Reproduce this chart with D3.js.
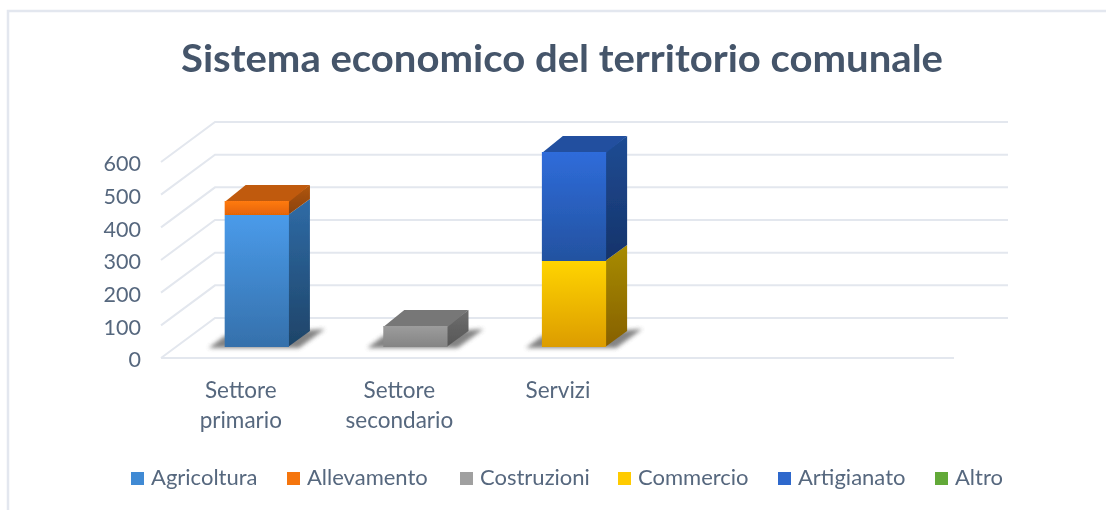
<!DOCTYPE html>
<html>
<head>
<meta charset="utf-8">
<script src="https://cdn.jsdelivr.net/npm/d3@7"></script>
<style>
  html, body { margin: 0; padding: 0; background: #fff; }
  text { font-family: Lato, "Open Sans", sans-serif; fill: #56677e; }
</style>
</head>
<body>
<div id="chart"></div>
<script>
let title = "Sistema economico del territorio comunale";
let categories = ["Settore primario", "Settore secondario", "Servizi", "", " "];
let cat_lines = [["Settore", "primario"], ["Settore", "secondario"], ["Servizi"], [], []];
let series_names = ["Agricoltura", "Allevamento", "Costruzioni", "Commercio", "Artigianato", "Altro"];
let agricoltura = [405, 0, 0, 0, 0];
let allevamento = [43, 0, 0, 0, 0];
let costruzioni = [0, 65, 0, 0, 0];
let commercio = [0, 0, 263, 0, 0];
let artigianato = [0, 0, 333, 0, 0];
let altro = [0, 0, 0, 0, 0];
let y_ticks = [0, 100, 200, 300, 400, 500, 600];

let width = 1106;
let height = 510;
let floor = {left: 161, right: 954, y: 358};
let wall = {dx: 54, dy: -40};     // front of floor to back wall
let front = {dx: 16.5, dy: -11};  // front of floor to front of the bars
let depth = {dx: 21, dy: -16};    // bar depth

// face colors: front top, front bottom, side top, side bottom, top face
let faces = [
    ["#4a9bea", "#3570ab", "#2f6ba6", "#1e4468", "#2f6ba6"],
    ["#ff7a12", "#e56405", "#b0560c", "#8a4208", "#c05a0a"],
    ["#9c9c9c", "#848484", "#6e6e6e", "#565656", "#777777"],
    ["#ffd400", "#dc9c00", "#a88c00", "#866000", "#a88c00"],
    ["#2f6cda", "#2352a0", "#1f4c94", "#15336a", "#20509f"],
    ["#62a937", "#4c8a28", "#3d6e20", "#2e5518", "#3d6e20"]
];
let legend_colors = [
    ["#3f8ad4", "#2f6faa"],
    ["#f5740f", "#d85f05"],
    ["#a0a0a0", "#808080"],
    ["#ffcb05", "#e0a000"],
    ["#2e68cc", "#23529e"],
    ["#62a937", "#4c8a28"]
];
let legend_x = [131, 287, 460, 618, 778, 935];

let table = categories.map((c, i) => ({
    cat: c,
    Agricoltura: agricoltura[i],
    Allevamento: allevamento[i],
    Costruzioni: costruzioni[i],
    Commercio: commercio[i],
    Artigianato: artigianato[i],
    Altro: altro[i]
}));
let stacked = d3.stack().keys(series_names)(table);

let x_scale = d3.scaleBand()
            .domain(categories)
            .range([floor.left, floor.right])
            .paddingInner(0.595)
            .paddingOuter(0.2975);

let y_scale = d3.scaleLinear()
            .domain([0, 600])
            .range([floor.y, 162]);

let svg = d3.select("#chart").append("svg")
            .attr("width", width)
            .attr("height", height)
            .attr("viewBox", [0, 0, width, height])
            .style("display", "block");

let defs = svg.append("defs");
let soften = defs.append("filter").attr("id", "soften");
soften.append("feGaussianBlur").attr("stdDeviation", 0.5);
let shadow_blur = defs.append("filter").attr("id", "shadow_blur")
            .attr("x", "-20%").attr("y", "-40%").attr("width", "140%").attr("height", "180%");
shadow_blur.append("feGaussianBlur").attr("stdDeviation", 2.2);

function add_gradient(id, top, bottom, y1, y2) {
    let g = defs.append("linearGradient").attr("id", id)
        .attr("gradientUnits", "userSpaceOnUse")
        .attr("x1", 0).attr("x2", 0).attr("y1", y1).attr("y2", y2);
    g.append("stop").attr("offset", 0).attr("stop-color", top);
    g.append("stop").attr("offset", 1).attr("stop-color", bottom);
}

let poly = pts => pts.map(p => p.join(",")).join(" ");
let root = svg.append("g").attr("filter", "url(#soften)");

// picture frame
root.append("path")
    .attr("d", `M8,${height}V11H${width}`)
    .attr("fill", "none").attr("stroke", "#e3e7ef").attr("stroke-width", 2.5);

root.append("text")
    .attr("x", 181).attr("y", 72)
    .attr("textLength", 762)
    .attr("lengthAdjust", "spacingAndGlyphs")
    .attr("font-size", 38)
    .attr("font-weight", 700)
    .style("fill", "#44546a")
    .text(title);

// gridlines, floor edge and wall
let grid = root.append("g").attr("fill", "none").attr("stroke", "#e3e7ee").attr("stroke-width", 2);
grid.selectAll("polyline")
    .data(y_ticks)
    .join("polyline")
    .attr("points", d => poly([
        [floor.left, y_scale(d)],
        [floor.left + wall.dx, y_scale(d) + wall.dy],
        [floor.right + wall.dx, y_scale(d) + wall.dy]
    ]));
grid.append("line")
    .attr("x1", floor.left).attr("x2", floor.right)
    .attr("y1", floor.y).attr("y2", floor.y);

// y axis
let y_axis = root.append("g")
    .attr("transform", `translate(${floor.left - 20},2)`)
    .call(d3.axisLeft(y_scale).tickValues(y_ticks).tickSize(0).tickPadding(0));
y_axis.select(".domain").remove();
y_axis.selectAll("text")
    .attr("font-size", 21.5)
    .attr("font-family", "Lato")
    .style("fill", "#56677e");

// category labels
root.append("g").selectAll("text")
    .data(categories.map((c, i) => ({cat: c, lines: cat_lines[i]})))
    .join("text")
    .attr("text-anchor", "middle")
    .attr("font-size", 22.5)
    .each(function(d) {
        d3.select(this).selectAll("tspan")
            .data(d.lines)
            .join("tspan")
            .attr("x", x_scale(d.cat) + x_scale.bandwidth() / 2 + 0.5)
            .attr("y", (l, i) => 398 + i * 30)
            .text(l => l);
    });

// bar shadows
let totals = table.map(r => series_names.reduce((s, k) => s + r[k], 0));
root.append("g").selectAll("polygon")
    .data(categories.filter((c, i) => totals[i] > 0))
    .join("polygon")
    .attr("fill", "#6e6e6e")
    .attr("opacity", 0.85)
    .attr("filter", "url(#shadow_blur)")
    .attr("points", c => {
        let x0 = x_scale(c) + front.dx, x1 = x0 + x_scale.bandwidth(), y0 = floor.y + front.dy;
        return poly([[x0 - 16, y0 + 1], [x0, y0 - 11], [x1 + 36, y0 - 18], [x1 + 10, y0 + 1]]);
    });

// bars
let bars = root.append("g");
stacked.forEach((layer, si) => {
    let f = faces[si];
    layer.forEach((d, i) => {
        if (d[1] - d[0] <= 0) return;
        let c = categories[i];
        let x0 = x_scale(c) + front.dx;
        let x1 = x0 + x_scale.bandwidth();
        // whole pixels so stacked segments meet without a seam
        let y0 = Math.round(y_scale(d[0]) + front.dy);
        let y1 = Math.round(y_scale(d[1]) + front.dy);
        let is_top = d[1] === totals[i];
        add_gradient(`front_${si}_${i}`, f[0], f[1], y1, y0);
        add_gradient(`side_${si}_${i}`, f[2], f[3], y1 + depth.dy, y0);
        let g = bars.append("g");
        // side starts 1px under the front face so no seam shows
        g.append("polygon")
            .attr("fill", `url(#side_${si}_${i})`)
            .attr("points", poly([[x1 - 1, y0], [x1 + depth.dx, y0 + depth.dy], [x1 + depth.dx, y1 + depth.dy], [x1 - 1, y1]]));
        if (is_top) g.append("polygon")
            .attr("fill", f[4])
            .attr("points", poly([[x0, y1 + 1], [x0 + depth.dx, y1 + depth.dy], [x1 + depth.dx, y1 + depth.dy], [x1, y1 + 1]]));
        g.append("rect")
            .attr("x", x0).attr("y", y1)
            .attr("width", x1 - x0).attr("height", y0 - y1)
            .attr("fill", `url(#front_${si}_${i})`);
    });
});

// legend
let legend = root.append("g").selectAll("g")
    .data(series_names)
    .join("g")
    .attr("transform", (d, i) => `translate(${legend_x[i]},472)`);
legend.each(function(d, i) {
    add_gradient(`legend_${i}`, legend_colors[i][0], legend_colors[i][1], 472, 485);
});
legend.append("rect")
    .attr("width", 13).attr("height", 13)
    .attr("fill", (d, i) => `url(#legend_${i})`);
legend.append("text")
    .attr("x", 20).attr("y", 12.5)
    .attr("font-size", 22)
    .text(d => d);
</script>
</body>
</html>
